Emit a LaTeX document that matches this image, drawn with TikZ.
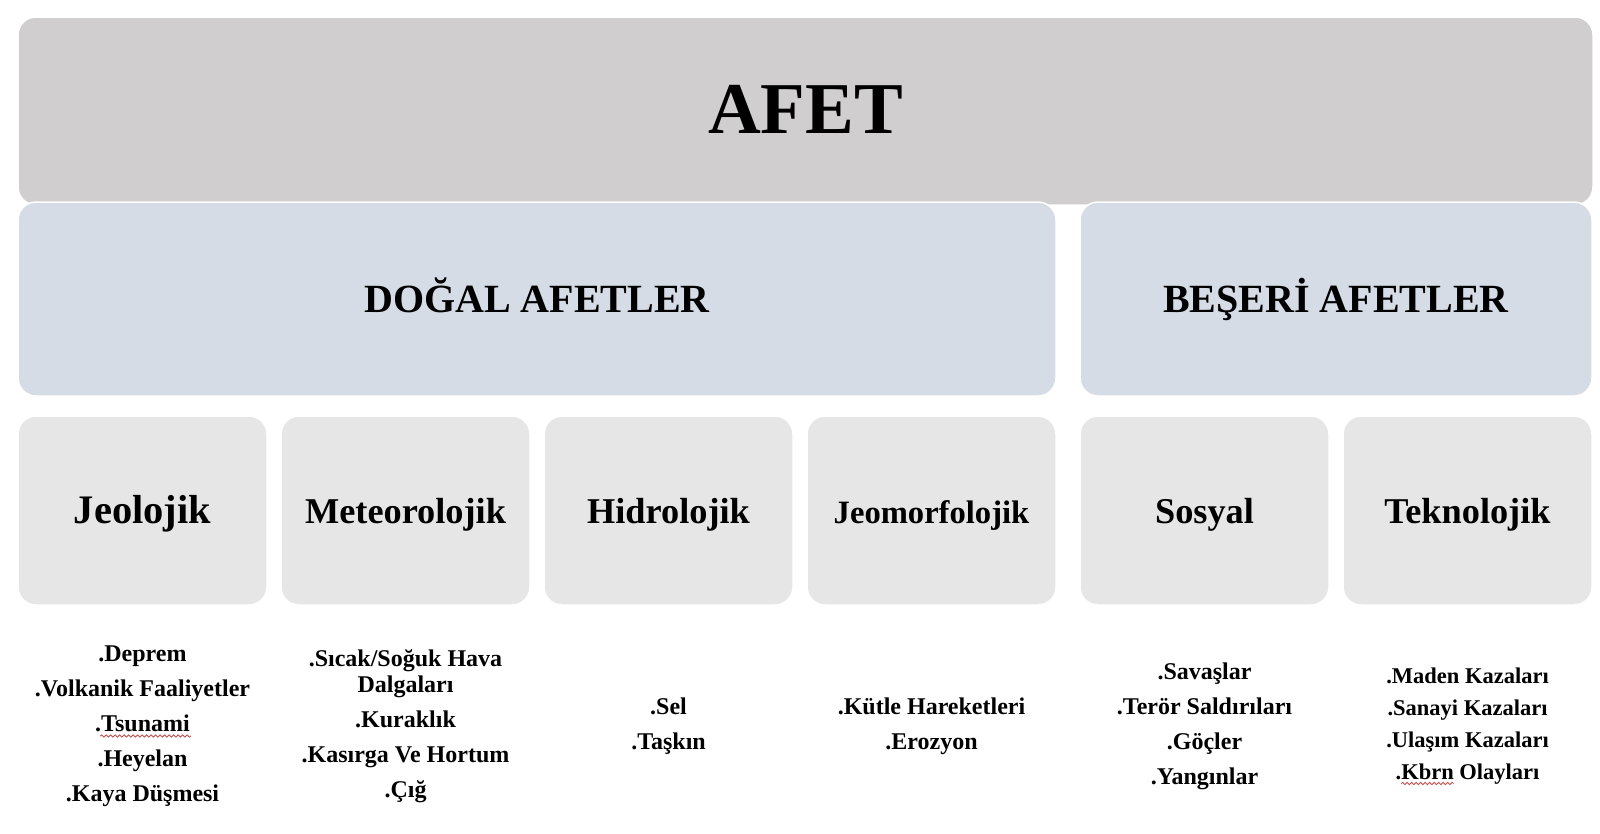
\documentclass[tikz,border=0pt]{standalone}
\usepackage{fontspec}
\setmainfont{Liberation Serif}
\usepackage{tikz}
\usetikzlibrary{positioning,calc,decorations.pathmorphing}
\definecolor{afetgray}{HTML}{D0CECE}
\definecolor{afetblue}{HTML}{D6DCE5}
\definecolor{afetlight}{HTML}{E7E6E6}
\definecolor{spellred}{HTML}{C0504D}

\begin{document}
\begin{tikzpicture}[x=1pt, y=1pt, node distance=14pt]
    \tikzstyle{box} = [rectangle, rounded corners=18pt, draw=white, line width=1.5pt, outer sep=0pt, inner sep=0pt, text centered]
    \tikzstyle{topbox} = [box, fill=afetgray, minimum width=1575pt, minimum height=188pt, text height=48pt, text depth=3pt, font=\bfseries\fontsize{73}{80}\selectfont]
    \tikzstyle{groupbox} = [box, fill=afetblue, minimum height=194pt, text height=26pt, text depth=0pt, font=\bfseries\fontsize{40}{45}\selectfont]
    \tikzstyle{catbox} = [box, fill=afetlight, minimum width=249pt, minimum height=189pt, text height=25pt, text depth=0pt, font=\bfseries\fontsize{36.3}{40}\selectfont]
    \tikzstyle{list} = [align=center, inner sep=0pt, font=\bfseries\fontsize{24}{35}\selectfont]
    \tikzstyle{spellerr} = [spellred, line width=0.8pt, decorate, decoration={snake, amplitude=1.1pt, segment length=4.5pt}]

    \fill[white] (0,0) rectangle (1600,-833);
    \useasboundingbox (0,0) rectangle (1600,-833);

    \node (afet) [topbox] at (805.5,-111) {AFET};
    \node (dogal) [groupbox, minimum width=1038pt] at (537,-299) {DOĞAL AFETLER};
    \node (beseri) [groupbox, minimum width=512pt, right=24pt of dogal] {BEŞERİ AFETLER};

    \node (jeolojik) [catbox, font=\bfseries\fontsize{40.5}{45}\selectfont] at (142.5,-510.5) {Jeolojik};
    \node (meteorolojik) [catbox, right=of jeolojik] {Meteorolojik};
    \node (hidrolojik) [catbox, right=of meteorolojik] {Hidrolojik};
    \node (jeomorfolojik) [catbox, right=of hidrolojik, font=\bfseries\fontsize{32.6}{36}\selectfont] {Jeomorfolojik};
    \node (sosyal) [catbox, right=24pt of jeomorfolojik] {Sosyal};
    \node (teknolojik) [catbox, right=of sosyal] {Teknolojik};

    \node (jeolojiklist) [list] at (jeolojik |- 0,-726) {.Deprem\\.Volkanik Faaliyetler\\.Tsunami\\.Heyelan\\.Kaya Düşmesi};
    \node (meteorolojiklist) [list] at (meteorolojik |- 0,-726) {.Sıcak/Soğuk Hava\\[-8.6pt]Dalgaları\\.Kuraklık\\.Kasırga Ve Hortum\\.Çığ};
    \node (hidrolojiklist) [list] at (hidrolojik |- 0,-726) {.Sel\\.Taşkın};
    \node (jeomorfolojiklist) [list] at (jeomorfolojik |- 0,-726) {.Kütle Hareketleri\\.Erozyon};
    \node (sosyallist) [list] at (sosyal |- 0,-726) {.Savaşlar\\.Terör Saldırıları\\.Göçler\\.Yangınlar};
    \node (teknolojiklist) [list, font=\bfseries\fontsize{22.5}{32.2}\selectfont] at (teknolojik |- 0,-726) {.Maden Kazaları\\.Sanayi Kazaları\\.Ulaşım Kazaları\\.Kbrn Olayları};

    % spell-check marks under Tsunami and Kbrn
    \draw [spellerr] ($(jeolojiklist.center)+(-42.3,-10)$) -- ($(jeolojiklist.center)+(48.3,-10)$);
    \draw [spellerr] ($(teknolojiklist.center)+(-66.3,-57.5)$) -- ($(teknolojiklist.center)+(-13.8,-57.5)$);
\end{tikzpicture}
\end{document}
